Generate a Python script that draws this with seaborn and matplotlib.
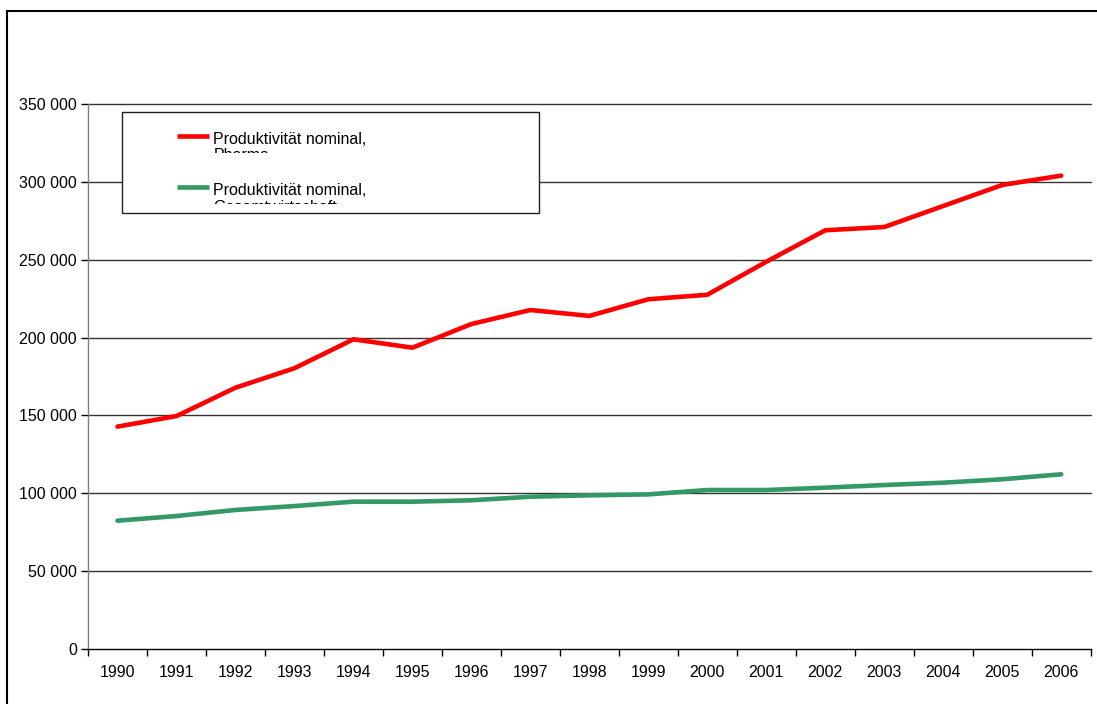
import matplotlib
matplotlib.use("Agg")
import matplotlib.pyplot as plt
from matplotlib.patches import Rectangle
from matplotlib.ticker import FixedLocator, FuncFormatter
import pandas as pd
import seaborn as sns

years = [str(y) for y in range(1990, 2007)]
pharma = [142800, 149600, 167800, 180300, 198900, 193500, 208700, 217700, 213900,
          224600, 227500, 248700, 268900, 271000, 284500, 298000, 304000]
gesamt = [82400, 85400, 89300, 91800, 94600, 94600, 95500, 97800, 98700,
          99300, 102100, 102100, 103600, 105300, 106800, 109000, 112200]
series_names = ["Produktivität nominal,\nPharma",
                "Produktivität nominal,\nGesamtwirtschaft"]
series_colors = ["#FF0000", "#339966"]
y_ticks = [0, 50000, 100000, 150000, 200000, 250000, 300000, 350000]

W, H = 1097, 704
FS = 11.5
sns.set_theme(style="white")
plt.rcParams["font.family"] = ["Liberation Sans", "DejaVu Sans"]

fig = plt.figure(figsize=(W / 100, H / 100), dpi=100)
fig.patch.set_facecolor("white")


def fx(px):
    return px / W


def fy(py):
    return 1 - py / H


# plot area
ax = fig.add_axes([fx(88), fy(649), fx(1090.7) - fx(88), fy(104) - fy(649)])

df = pd.DataFrame({
    "pos": list(range(len(years))) * 2,
    "value": pharma + gesamt,
    "series": [series_names[0]] * len(years) + [series_names[1]] * len(years),
})
sns.lineplot(data=df, x="pos", y="value", hue="series", hue_order=series_names,
             palette=series_colors, linewidth=3.3, legend=False, ax=ax, zorder=3)

ax.set_xlim(-0.5, len(years) - 0.5)
ax.set_ylim(0, 350000)
ax.set_xlabel("")
ax.set_ylabel("")

# horizontal gridlines
for v in y_ticks[1:]:
    ax.axhline(v, color="#333333", linewidth=1.0, zorder=1, clip_on=False)

# x axis: ticks at category boundaries, labels at centers
ax.xaxis.set_major_locator(FixedLocator([i - 0.5 for i in range(len(years) + 1)]))
ax.xaxis.set_major_formatter(FuncFormatter(lambda v, p: ""))
ax.xaxis.set_minor_locator(FixedLocator(list(range(len(years)))))
ax.set_xticklabels(years, minor=True)
ax.tick_params(axis="x", which="major", direction="out", length=5, width=1,
               color="black", bottom=True)
ax.tick_params(axis="x", which="minor", length=0, pad=11.5, labelsize=FS,
               labelcolor="black", bottom=True)

ax.yaxis.set_major_locator(FixedLocator(y_ticks))
ax.yaxis.set_major_formatter(FuncFormatter(lambda v, p: f"{v:,.0f}".replace(",", " ")))
ax.tick_params(axis="y", direction="out", length=5, width=1, color="black",
               left=True, pad=3, labelsize=FS, labelcolor="black")

for side in ["top", "right"]:
    ax.spines[side].set_visible(False)
ax.spines["left"].set_color("#808080")
ax.spines["left"].set_linewidth(1.0)
ax.spines["bottom"].set_color("black")
ax.spines["bottom"].set_linewidth(1.0)
ax.set_facecolor("white")

# chart frame
fig.add_artist(Rectangle((fx(7), fy(H + 20)), fx(W + 20) - fx(7), fy(11) - fy(H + 20),
                         transform=fig.transFigure, fill=False, edgecolor="black",
                         linewidth=1.5))

# legend box
leg_x0, leg_x1, leg_y0, leg_y1 = 122, 539, 112, 213
fig.add_artist(Rectangle((fx(leg_x0), fy(leg_y1)), fx(leg_x1) - fx(leg_x0),
                         fy(leg_y0) - fy(leg_y1), transform=fig.transFigure,
                         facecolor="white", edgecolor="#222222", linewidth=1.0,
                         zorder=5))

# each entry sits in its own band; the label is cut off at the band edge
LINE_STEP = 16.5
entries = [
    (series_names[0], series_colors[0], 136.0, 143.3, 113, 152.5),
    (series_names[1], series_colors[1], 186.7, 195.0, 163, 204.2),
]
for label, color, line_y, baseline, band_top, band_bottom in entries:
    band = fig.add_axes([fx(leg_x0 + 1), fy(band_bottom), fx(leg_x1 - 1) - fx(leg_x0 + 1),
                         fy(band_top) - fy(band_bottom)], zorder=6)
    band.set_axis_off()
    band.set_xlim(leg_x0 + 1, leg_x1 - 1)
    band.set_ylim(band_bottom, band_top)
    band.plot([176.7, 209.0], [line_y, line_y], color=color, linewidth=3.3,
              solid_capstyle="butt")
    n_lines = label.count("\n")
    band.text(213.3, baseline + n_lines * LINE_STEP, label, fontsize=FS, color="black",
              ha="left", va="baseline", linespacing=1.1, clip_on=True)

fig.savefig("out.png", dpi=100, facecolor="white")
